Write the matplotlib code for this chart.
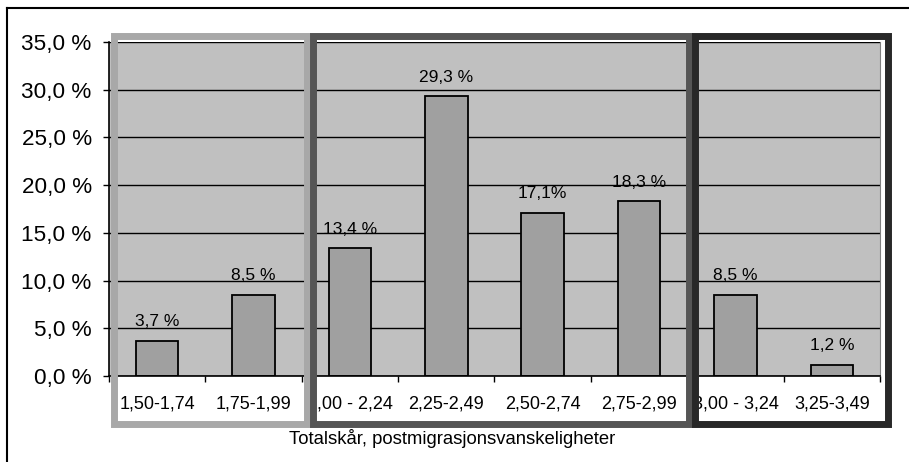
import matplotlib
matplotlib.use("Agg")
import matplotlib.pyplot as plt
from matplotlib.patches import Rectangle
from matplotlib.lines import Line2D
from matplotlib.transforms import blended_transform_factory

plt.rcParams["font.family"] = ["Liberation Sans", "DejaVu Sans"]

categories = ["1,50-1,74", "1,75-1,99", "2,00 - 2,24", "2,25-2,49",
              "2,50-2,74", "2,75-2,99", "3,00 - 3,24", "3,25-3,49"]
shares = [3.7, 8.5, 13.4, 29.3, 17.1, 18.3, 8.5, 1.2]
bar_labels = ["3,7 %", "8,5 %", "13,4 %", "29,3 %", "17,1%", "18,3 %", "8,5 %", "1,2 %"]
y_ticks = [0, 5, 10, 15, 20, 25, 30, 35]
y_tick_labels = ["0,0 %", "5,0 %", "10,0 %", "15,0 %", "20,0 %", "25,0 %", "30,0 %", "35,0 %"]
# category groups (first index, last index) outlined with frames
groups = [(0, 1), (2, 5), (6, 7)]
group_colors = ["#a8a8a8", "#555555", "#282828"]

fig = plt.figure(figsize=(9.09, 4.62), dpi=100)
ax = fig.add_axes([0.1199, 0.1861, 0.8482, 0.7230])
ax.set_facecolor("#c0c0c0")

x = list(range(len(categories)))
ax.set_axisbelow(True)
ax.grid(axis="y", color="black", linewidth=1.0)
ax.bar(x, shares, width=0.44, color="#a0a0a0", edgecolor="black", linewidth=1.3, zorder=2)

for xi, v, lab in zip(x, shares, bar_labels):
    ax.annotate(lab, (xi, v), xytext=(0, 10.5), textcoords="offset points",
                ha="center", va="baseline", fontsize=12.5, zorder=3)

ax.set_xlim(-0.5, len(categories) - 0.5)
ax.set_ylim(0, 35)
ax.set_yticks(y_ticks)
ax.set_yticklabels(y_tick_labels, fontsize=16.2)
ax.tick_params(axis="y", length=4.5, width=1, pad=8, direction="out")

# labels centred on bars, tick marks on category boundaries
ax.set_xticks(x)
ax.set_xticklabels(categories, fontsize=13)
ax.set_xticks([i - 0.5 for i in range(len(categories) + 1)], minor=True)
ax.tick_params(axis="x", which="major", length=0, pad=14)
ax.tick_params(axis="x", which="minor", length=4.5, width=1, direction="out")

ax.spines["top"].set_visible(False)
ax.spines["right"].set_color("#808080")
ax.spines["left"].set_linewidth(1.2)
ax.spines["bottom"].set_linewidth(1.2)

ax.set_xlabel("Totalskår, postmigrasjonsvanskeligheter", fontsize=13.3, va="center")
ax.xaxis.set_label_coords(0.445, -0.186)

# group frames: x in data units, y in axes fraction
trans = blended_transform_factory(ax.transData, ax.transAxes)
frame_edges = [(-0.45, 1.55), (1.62, 5.52), (5.58, 7.58)]
for (x0, x1), col in zip(frame_edges, group_colors):
    ax.add_patch(Rectangle((x0, -0.145), x1 - x0, 1.1615, transform=trans,
                           fill=False, edgecolor=col, linewidth=5.0,
                           joinstyle="miter", clip_on=False, zorder=6))

# outer chart border (left and top edges visible)
fig.add_artist(Line2D([6.5 / 909, 6.5 / 909], [0, 1 - 8 / 462], color="black", linewidth=1.5))
fig.add_artist(Line2D([6.5 / 909, 1], [1 - 8 / 462, 1 - 8 / 462], color="black", linewidth=1.5))

fig.savefig("out.png", dpi=100)
